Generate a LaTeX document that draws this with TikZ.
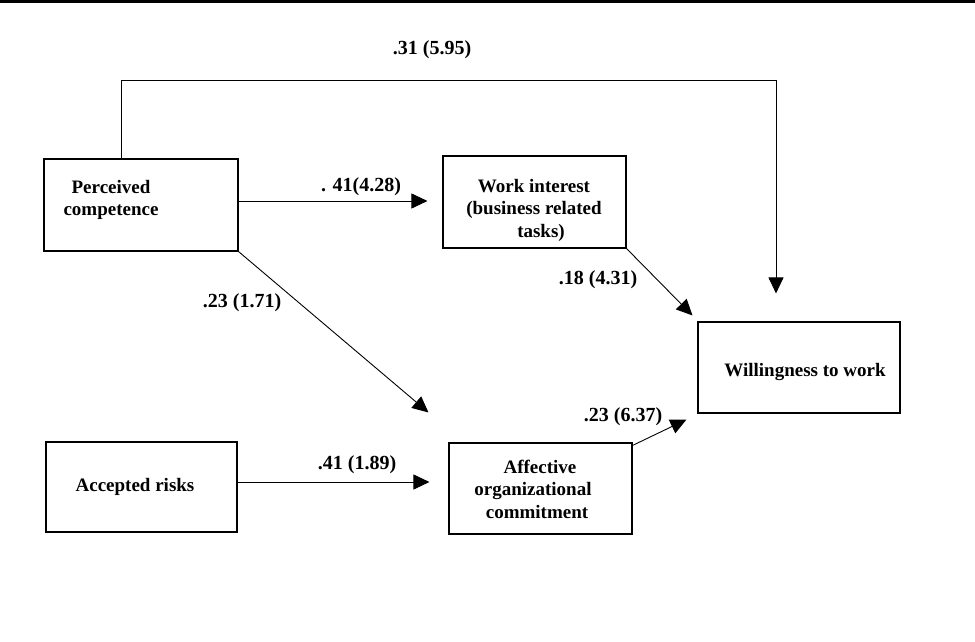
\documentclass[tikz,border=0pt]{standalone}
\usepackage{fontspec}
\setmainfont{Liberation Serif}
\usetikzlibrary{arrows.meta}
\begin{document}
\begin{tikzpicture}[x=1pt,y=-1pt,
  box/.style={draw,line width=1.1pt,inner sep=0pt},
  boxtext/.style={font=\fontsize{19}{22.5}\selectfont\bfseries,align=center,inner sep=0pt},
  coef/.style={font=\fontsize{20}{24}\selectfont\bfseries,inner sep=0pt},
  arr/.style={line width=0.9pt,-{Triangle[length=16pt,width=15pt]}},
  link/.style={line width=0.9pt}]
\useasboundingbox (0,0) rectangle (975,642);
% heading rule
\fill (0,0) rectangle (975,3.5);

% boxes
\node[box,minimum width=194pt,minimum height=92pt] (pc) at (141,205) {};
\node[box,minimum width=183pt,minimum height=92pt] (wi) at (534.5,202) {};
\node[box,minimum width=202pt,minimum height=91pt] (wl) at (799,367.5) {};
\node[box,minimum width=191pt,minimum height=90pt] (ar) at (141.5,487) {};
\node[box,minimum width=183pt,minimum height=91pt] (af) at (540.5,488.5) {};

% box texts
\node[boxtext] (pcT) at (111,200) {Perceived\\competence};
\node[boxtext] (wiT) at (534,210) {Work interest\\(business related\\\hspace*{14pt}tasks)};
\node[boxtext] (wlT) at (805,372) {Willingness to work};
\node[boxtext] (arT) at (135,487) {Accepted risks};
\node[boxtext] (afT) at (533,489) {\hspace*{14pt}Affective\\organizational\\\hspace*{8pt}commitment};

% paths
\coordinate (topL) at ([xshift=-20pt,yshift=78pt]pc.north);
\draw[arr] ([xshift=-20pt]pc.north) -- (topL) -| ([xshift=-23pt,yshift=28pt]wl.north);
\draw[arr] ([yshift=4pt]pc.east) -- ([xshift=-15pt,yshift=1pt]wi.west);
\draw[arr] (pc.south east) -- ([xshift=-20pt,yshift=30pt]af.north west);
\draw[arr] (wi.south east) -- ([xshift=-5pt,yshift=6pt]wl.north west);
\draw[arr] ([yshift=5pt]ar.east) -- ([xshift=-19pt,yshift=6.5pt]af.west);
\draw[arr] ([yshift=-3pt]af.north east) -- ([xshift=-11pt,yshift=-6pt]wl.south west);

% coefficients
\node[coef] (c1) at (432,50) {.31 (5.95)};
\node[coef] (c2) at (361,187) {. 41(4.28)};
\node[coef] (c3) at (242,303) {.23 (1.71)};
\node[coef] (c4) at (598,280) {.18 (4.31)};
\node[coef] (c5) at (357,465) {.41 (1.89)};
\node[coef] (c6) at (623,417) {.23 (6.37)};
\end{tikzpicture}
\end{document}
